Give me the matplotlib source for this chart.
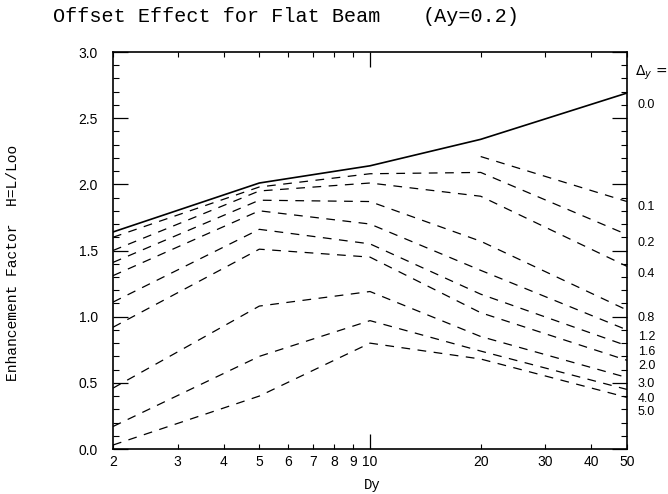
import numpy as np
import matplotlib.pyplot as plt
from matplotlib.transforms import blended_transform_factory

nan = np.nan

# Dy values where the curves were computed
dy = [2, 5, 10, 20, 50]

# enhancement factor H for each offset Delta_y
h_00 = [1.64, 2.01, 2.14, 2.34, 2.69]
h_01 = [nan, nan, nan, 2.21, 1.87]
h_02 = [1.60, 1.98, 2.08, 2.09, 1.62]
h_04 = [1.50, 1.95, 2.01, 1.91, 1.38]
h_08 = [1.41, 1.88, 1.87, 1.57, 1.05]
h_12 = [1.31, 1.80, 1.70, 1.35, 0.90]
h_16 = [1.11, 1.66, 1.55, 1.17, 0.78]
h_20 = [0.92, 1.51, 1.45, 1.03, 0.67]
h_30 = [0.46, 1.08, 1.19, 0.85, 0.54]
h_40 = [0.17, 0.70, 0.97, 0.74, 0.45]
h_50 = [0.03, 0.40, 0.80, 0.68, 0.39]

delta_y = ['0.0', '0.1', '0.2', '0.4', '0.8', '1.2', '1.6', '2.0', '3.0', '4.0', '5.0']
curves = [h_00, h_01, h_02, h_04, h_08, h_12, h_16, h_20, h_30, h_40, h_50]

# where the Delta_y labels sit on the right side
label_h = [2.60, 1.83, 1.56, 1.32, 0.99, 0.85, 0.73, 0.63, 0.49, 0.38, 0.28]

xtick_vals = [2, 3, 4, 5, 6, 7, 8, 9, 20, 30, 40, 50]
ytick_vals = [0.0, 0.5, 1.0, 1.5, 2.0, 2.5, 3.0]

mono = 'Liberation Mono'
sans = 'Liberation Sans'

W, H = 668, 494
fig = plt.figure(figsize=(W / 100, H / 100), dpi=100)
ax = fig.add_axes([113 / W, (H - 449) / H, 514 / W, 397 / H])

for i, h in enumerate(curves):
    if i == 0:
        ax.plot(dy, h, color='black', lw=1.2)
    else:
        ax.plot(dy, h, color='black', lw=0.9, dashes=(7, 6))

ax.set_xscale('log')
ax.set_xlim(2, 50)
ax.set_ylim(0, 3)

ax.set_xticks([10], ['10'])
ax.set_xticks(xtick_vals, [str(v) for v in xtick_vals], minor=True)
ax.set_yticks(ytick_vals, ['%.1f' % v for v in ytick_vals])
ax.set_yticks(np.arange(0, 3.01, 0.1), minor=True)

ax.tick_params(axis='x', which='major', direction='in', length=11, width=0.9,
               top=True, pad=4)
ax.tick_params(axis='x', which='minor', direction='in', length=3.5, width=0.8,
               top=True, pad=4)
ax.tick_params(axis='y', which='major', direction='in', length=11, width=0.9,
               right=True, pad=11)
ax.tick_params(axis='y', which='minor', direction='in', length=4, width=0.8,
               right=True)
for lab in ax.get_xticklabels(which='both') + ax.get_yticklabels():
    lab.set_fontfamily(sans)
    lab.set_fontsize(10)

for s in ax.spines.values():
    s.set_linewidth(1.2)

trans = blended_transform_factory(ax.transAxes, ax.transData)
ax.text(1 + 8 / 514, 2.84, r'$\Delta_y$ =', transform=trans, fontsize=10,
        va='center', ha='left', clip_on=False)
for lab, yv in zip(delta_y, label_h):
    ax.text(1 + 11 / 514, yv, lab, transform=trans, fontfamily=sans,
            fontsize=9, va='center', ha='left', clip_on=False)

fig.text(53 / W, 1 - 17 / H, 'Offset Effect for Flat Beam', fontfamily=mono,
         fontsize=14.5, va='center', ha='left')
fig.text(423 / W, 1 - 17 / H, '(Ay=0.2)', fontfamily=mono,
         fontsize=14.5, va='center', ha='left')
fig.text(13 / W, 1 - 263 / H, 'Enhancement Factor  H=L/Loo', fontfamily=mono,
         fontsize=10.5, rotation=90, va='center', ha='center')
fig.text(372 / W, 1 - 485 / H, 'Dy', fontfamily=mono, fontsize=10,
         va='center', ha='center')

fig.savefig('out.png', dpi=100)
